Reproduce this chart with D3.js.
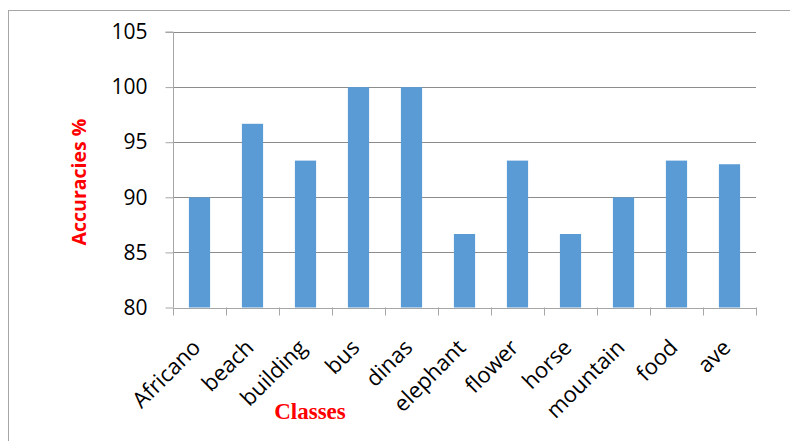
<!DOCTYPE html>
<html>
<head>
<meta charset="utf-8">
<script src="https://cdn.jsdelivr.net/npm/d3@7"></script>
<style>
  body { margin: 0; background: #fff; }
  svg { display: block; }
</style>
</head>
<body>
<svg id="chart" width="790" height="441"></svg>
<script>
const classes = ['Africano', 'beach', 'building', 'bus', 'dinas', 'elephant', 'flower', 'horse', 'mountain', 'food', 'ave'];
const accuracies = [90, 96.67, 93.33, 100, 100, 86.67, 93.33, 86.67, 90, 93.33, 93];
const yTicks = [80, 85, 90, 95, 100, 105];

const svg = d3.select('#chart');
const plot = { left: 173, right: 756, top: 32, bottom: 307.5 };

// outer frame of the figure
svg.append('rect')
  .attr('x', 8.5).attr('y', 10.5)
  .attr('width', 800).attr('height', 450)
  .attr('fill', 'none')
  .attr('stroke', '#a6a6a6');

const x = d3.scaleBand()
  .domain(classes)
  .range([plot.left, plot.right])
  .paddingInner(0.6)
  .paddingOuter(0.3);

const y = d3.scaleLinear()
  .domain([80, 105])
  .range([plot.bottom, plot.top]);

// gridlines
svg.append('g')
  .selectAll('line')
  .data(yTicks)
  .join('line')
  .attr('x1', plot.left).attr('x2', plot.right)
  .attr('y1', d => Math.round(y(d)) + 0.5)
  .attr('y2', d => Math.round(y(d)) + 0.5)
  .attr('stroke', '#8c8c8c')
  .attr('stroke-width', 1);

// bars
svg.append('g')
  .selectAll('rect')
  .data(classes)
  .join('rect')
  .attr('x', d => x(d))
  .attr('width', x.bandwidth())
  .attr('y', (d, i) => y(accuracies[i]))
  .attr('height', (d, i) => y(80) - y(accuracies[i]))
  .attr('fill', '#5b9bd5');

// y axis
const yAxis = svg.append('g')
  .attr('transform', `translate(${plot.left + 0.5},0)`)
  .call(d3.axisLeft(y).tickValues(yTicks).tickSize(8).tickPadding(18));
yAxis.select('.domain').attr('stroke', '#a6a6a6').attr('d', `M-8,${y(105)}H0V${y(80)}`);
yAxis.selectAll('.tick line').attr('stroke', '#a6a6a6');
yAxis.selectAll('.tick text')
  .attr('font-family', 'Open Sans, sans-serif')
  .attr('font-size', 21)
  .attr('fill', '#000');

// x axis: ticks between categories
const xTickPos = d3.range(classes.length + 1).map(i => plot.left + i * (plot.right - plot.left) / classes.length);
const xAxis = svg.append('g');
xAxis.append('line')
  .attr('x1', plot.left).attr('x2', plot.right)
  .attr('y1', Math.round(y(80)) + 0.5).attr('y2', Math.round(y(80)) + 0.5)
  .attr('stroke', '#a6a6a6');
xAxis.selectAll('line.tk')
  .data(xTickPos)
  .join('line')
  .attr('class', 'tk')
  .attr('x1', d => Math.round(d) + 0.5).attr('x2', d => Math.round(d) + 0.5)
  .attr('y1', y(80)).attr('y2', y(80) + 8)
  .attr('stroke', '#a6a6a6');

svg.append('g')
  .selectAll('text')
  .data(classes)
  .join('text')
  .attr('transform', d => `translate(${x(d) + x.bandwidth() / 2 - 3},${y(80) + 36}) rotate(-45)`)
  .attr('text-anchor', 'end')
  .attr('dy', '0.35em')
  .attr('font-family', 'Open Sans, sans-serif')
  .attr('font-size', 22)
  .attr('fill', '#000')
  .text(d => d);

// axis titles
svg.append('text')
  .attr('transform', 'translate(86,182) rotate(-90)')
  .attr('text-anchor', 'middle')
  .attr('font-family', 'Open Sans, sans-serif')
  .attr('font-weight', 'bold')
  .attr('font-size', 19.5)
  .attr('fill', '#ff0000')
  .text('Accuracies %');

svg.append('text')
  .attr('x', 310).attr('y', 419)
  .attr('text-anchor', 'middle')
  .attr('font-family', 'Liberation Serif, Times New Roman, serif')
  .attr('font-weight', 'bold')
  .attr('font-size', 23)
  .attr('fill', '#ff0000')
  .text('Classes');
</script>
</body>
</html>
